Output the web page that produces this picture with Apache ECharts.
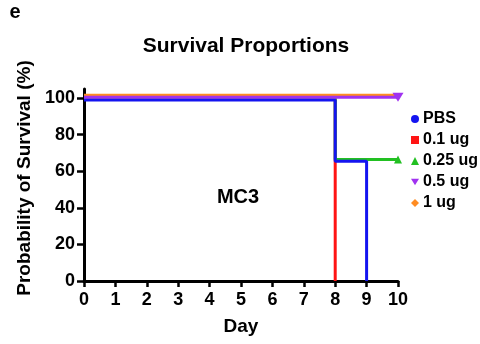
<!DOCTYPE html>
<html>
<head>
<meta charset="utf-8">
<script src="https://cdn.jsdelivr.net/npm/echarts@6/dist/echarts.min.js"></script>
<style>
html, body { margin: 0; padding: 0; background: #fff; }
#main { width: 480px; height: 344px; }
</style>
</head>
<body>
<div id="main"></div>
<script>
// groups, in legend order
var groups = ['PBS', '0.1 ug', '0.25 ug', '0.5 ug', '1 ug'];
var colors = ['#1414f0', '#ff1414', '#22c022', '#a032f0', '#ff8c22'];
var downTri = 'path://M0,0L10,0L5,8Z';
var icons = ['circle', 'rect', 'triangle', downTri, 'diamond'];
var dayTicks = [0, 1, 2, 3, 4, 5, 6, 7, 8, 9, 10];
var pctTicks = [0, 20, 40, 60, 80, 100];

// survival steps [day, %] (small offsets as in the plot so lines don't overlap)
var pbs = [[0, 99], [8, 65.5], [9, 0]];
var ug01 = [[0, 99.6], [8, 0]];
var ug025 = [[0, 100.1], [8, 66.5], [10, 66.5]];
var ug05 = [[0, 100.5], [10, 100.5]];
var ug1 = [[0, 101.6], [10, 101.6]];

// censor mark on the last point, if any (the 1 ug one is hidden under 0.5 ug)
var endMarks = [null, null, 'triangle', downTri, null];
var endSizes = [0, 0, 8, [11, 9], 0];

var font = 'Arial, "Liberation Sans", sans-serif';
var myChart = echarts.init(document.getElementById('main'));

function mkSeries(idx, pts, z) {
    var d = pts.map(function (p, i) {
        if (i === pts.length - 1 && endMarks[idx]) {
            return { value: p, symbol: endMarks[idx], symbolSize: endSizes[idx] };
        }
        return { value: p };
    });
    return {
        name: groups[idx],
        type: 'line',
        step: 'end',
        data: d,
        symbol: 'none',
        color: colors[idx],
        lineStyle: { width: 3, color: colors[idx] },
        itemStyle: { color: colors[idx] },
        z: z,
        animation: false
    };
}

function txt(s, x, y, size, rot) {
    return {
        type: 'text', x: x, y: y, rotation: rot || 0,
        style: {
            text: s, fontFamily: font, fontWeight: 'bold', fontSize: size, fill: '#000',
            align: 'center', verticalAlign: 'middle'
        }
    };
}

var option = {
    backgroundColor: '#fff',
    graphic: [
        txt('e', 15, 12, 20),
        txt('Survival Proportions', 246, 46, 21),
        txt('MC3', 238, 197, 20),
        txt('Probability of Survival (%)', 25, 178, 19, Math.PI / 2)
    ],
    legend: {
        data: groups.map(function (g, i) { return { name: g, icon: icons[i] }; }),
        orient: 'vertical',
        left: 411, top: 111,
        padding: 0,
        itemWidth: 8, itemHeight: 8, itemGap: 5,
        textStyle: { fontFamily: font, fontWeight: 'bold', fontSize: 16, color: '#000', padding: [0, 0, 0, -1] }
    },
    grid: { left: 84, right: 82, top: 89, bottom: 63 },
    xAxis: {
        type: 'value',
        min: 0, max: 10, interval: 1,
        name: 'Day', nameLocation: 'middle', nameGap: 36,
        nameTextStyle: { fontFamily: font, fontWeight: 'bold', fontSize: 19, color: '#000' },
        axisLine: { show: true, lineStyle: { color: '#000', width: 3 } },
        axisTick: { show: true, length: 6, lineStyle: { color: '#000', width: 2.5 } },
        axisLabel: {
            margin: 10, fontFamily: font, fontWeight: 'bold', fontSize: 18, color: '#000',
            formatter: function (v) { return dayTicks.indexOf(v) >= 0 ? String(v) : ''; }
        },
        splitLine: { show: false }
    },
    yAxis: {
        type: 'value',
        min: 0, max: 105, interval: 20,
        axisLine: { show: true, lineStyle: { color: '#000', width: 3 } },
        axisTick: { show: true, length: 7, customValues: pctTicks, lineStyle: { color: '#000', width: 2.5 } },
        axisLabel: {
            margin: 9, fontFamily: font, fontWeight: 'bold', fontSize: 18, color: '#000',
            customValues: pctTicks
        },
        splitLine: { show: false }
    },
    series: [
        mkSeries(1, ug01, 2),
        mkSeries(2, ug025, 3),
        mkSeries(0, pbs, 4),
        mkSeries(4, ug1, 5),
        mkSeries(3, ug05, 6)
    ]
};

myChart.setOption(option);
</script>
</body>
</html>
